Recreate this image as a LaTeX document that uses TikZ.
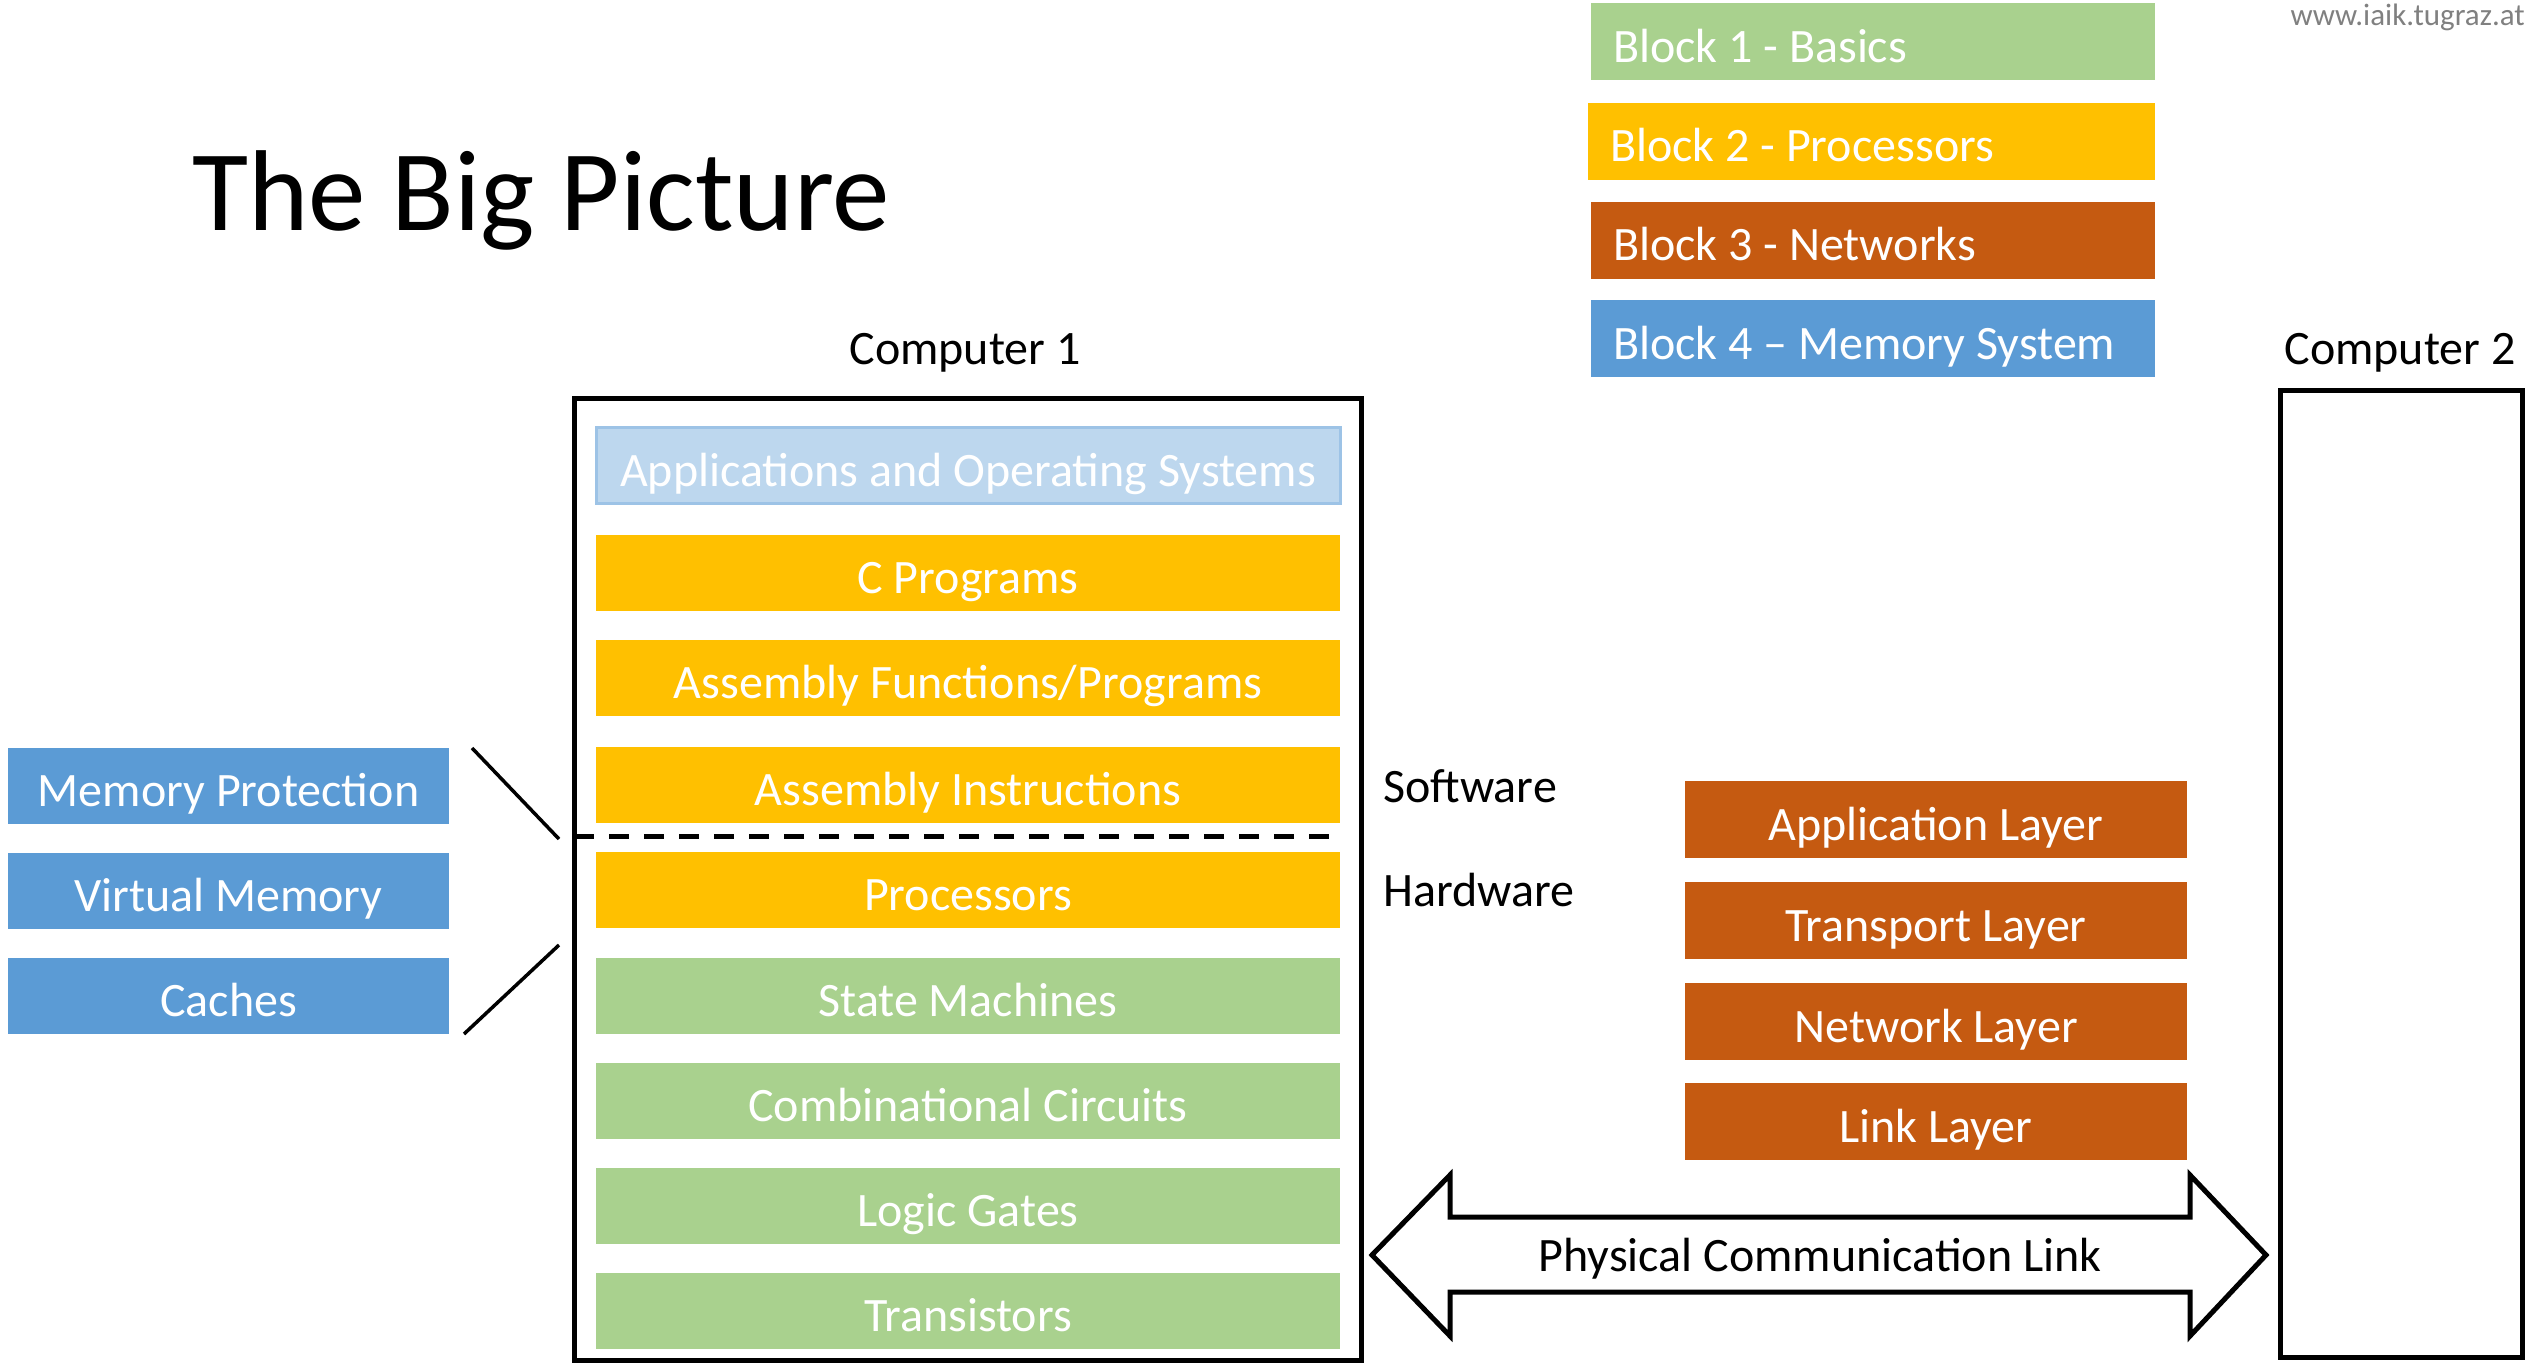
\documentclass[tikz,border=0pt]{standalone}
\usepackage{fontspec}
\setmainfont{Carlito}
\definecolor{basicsgreen}{HTML}{A9D18E}
\definecolor{procyellow}{HTML}{FFC000}
\definecolor{netorange}{HTML}{C55A11}
\definecolor{memblue}{HTML}{5B9BD5}
\definecolor{appfill}{HTML}{BDD7EE}
\definecolor{appline}{HTML}{9DC3E6}
\definecolor{urlgray}{HTML}{808080}
\tikzset{
  lbl/.style={font=\fontsize{48}{56}\selectfont, text=black, inner sep=0pt},
  layerbar/.style={rectangle, inner sep=0pt, text=white,
    font=\fontsize{48}{56}\selectfont, text height=48pt, text depth=7pt},
  stackbar/.style={layerbar, minimum width=744pt, minimum height=76pt},
  sidebar/.style={layerbar, fill=memblue, minimum width=441pt, minimum height=76pt},
  netbar/.style={layerbar, fill=netorange, minimum width=502pt, minimum height=77pt},
  legendbar/.style={rectangle, inner sep=0pt, minimum height=77pt},
  legendtext/.style={layerbar, anchor=west},
  frame/.style={draw=black, line width=5pt},
}
\begin{document}
\begin{tikzpicture}[x=1pt,y=-1pt]
\useasboundingbox (0,0) rectangle (2534,1364);

% title and web address
\node[anchor=base west, inner sep=0pt, font=\fontsize{115}{130}\selectfont] (title) at (192,231) {The Big Picture};
\node[anchor=base east, inner sep=0pt, text=urlgray, font=\fontsize{31}{36}\selectfont] (url) at (2525,26) {www.iaik.tugraz.at};

% legend of the four blocks
\node[legendbar, fill=basicsgreen, minimum width=564pt] (blk1) at (1873,42) {};
\node[legendbar, fill=procyellow, minimum width=567pt] (blk2) at (1871.5,141.5) {};
\node[legendbar, fill=netorange, minimum width=564pt] (blk3) at (1873,240.5) {};
\node[legendbar, fill=memblue, minimum width=564pt] (blk4) at (1873,338.5) {};
\node[legendtext] (blk1t) at ([xshift=22pt]blk1.west) {Block 1 - Basics};
\node[legendtext] (blk2t) at ([xshift=22pt]blk2.west) {Block 2 - Processors};
\node[legendtext] (blk3t) at ([xshift=22pt]blk3.west) {Block 3 - Networks};
\node[legendtext] (blk4t) at ([xshift=22pt]blk4.west) {Block 4 – Memory System};

% computer 1 with its layer stack
\node[lbl, anchor=base] (c1label) at (965,364) {Computer 1};
\draw[frame] (574,398) rectangle (1361,1360);
\node[stackbar, fill=appfill, draw=appline, line width=3pt] (apps) at (968,465.5) {Applications and Operating Systems};
\node[stackbar, fill=procyellow] (cprog) at (968,573) {C Programs};
\node[stackbar, fill=procyellow] (asmfun) at (968,678) {Assembly Functions/Programs};
\node[stackbar, fill=procyellow] (asmins) at (968,785) {Assembly Instructions};
\node[stackbar, fill=procyellow] (procs) at (968,890) {Processors};
\node[stackbar, fill=basicsgreen] (fsm) at (968,996) {State Machines};
\node[stackbar, fill=basicsgreen] (comb) at (968,1101) {Combinational Circuits};
\node[stackbar, fill=basicsgreen] (gates) at (968,1206) {Logic Gates};
\node[stackbar, fill=basicsgreen] (trans) at (968,1311) {Transistors};

% software / hardware boundary
\coordinate (swhwL) at (574,836);
\coordinate (swhwR) at (1340,836);
\draw[line width=5pt, dash pattern=on 20pt off 15pt] (swhwL) -- (swhwR);
\node[lbl, anchor=base west] (sw) at (1383,802) {Software};
\node[lbl, anchor=base west] (hw) at (1383,906) {Hardware};

% memory system topics
\node[sidebar] (memprot) at (228.5,785.5) {Memory Protection};
\node[sidebar] (virtmem) at (228.5,890.5) {Virtual Memory};
\node[sidebar] (caches) at (228.5,996) {Caches};
\coordinate (upA) at (472,748);
\coordinate (upB) at (559,839);
\coordinate (loA) at (559,945);
\coordinate (loB) at (464,1034);
\draw[line width=3.5pt] (upA) -- (upB);
\draw[line width=3.5pt] (loA) -- (loB);

% network layers
\node[netbar] (appl) at (1936,819.5) {Application Layer};
\node[netbar] (transl) at (1936,920.5) {Transport Layer};
\node[netbar] (netl) at (1936,1021.5) {Network Layer};
\node[netbar] (linkl) at (1936,1121.5) {Link Layer};

% computer 2
\node[lbl, anchor=base] (c2label) at (2400,364) {Computer 2};
\draw[frame] (2280,390) rectangle (2522,1357);

% physical link between the two computers
\draw[line width=5pt, line join=miter, fill=white]
  (1372,1255) -- (1450,1175) -- (1450,1217) -- (2190,1217) -- (2190,1175)
  -- (2266,1255) -- (2190,1336) -- (2190,1292) -- (1450,1292) -- (1450,1336) -- cycle;
\node[lbl, anchor=base] (phys) at (1820,1271) {Physical Communication Link};
\end{tikzpicture}
\end{document}
